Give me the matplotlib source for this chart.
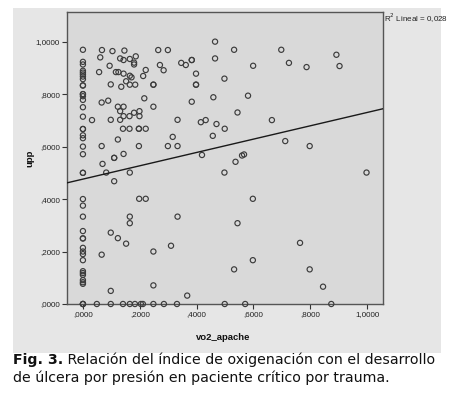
import matplotlib
matplotlib.use("Agg")
import matplotlib.pyplot as plt
from matplotlib.patches import Rectangle
import numpy as np

# ---- data ----
col0_y = [0.969, 0.923, 0.913, 0.889, 0.882, 0.875, 0.867, 0.857, 0.833, 0.833,
          0.8, 0.8, 0.792, 0.778, 0.75, 0.714, 0.667, 0.667, 0.643, 0.632, 0.6,
          0.571, 0.5, 0.5, 0.4, 0.375, 0.333, 0.278, 0.25, 0.25, 0.214, 0.2, 0.19,
          0.167, 0.125, 0.118, 0.111, 0.091, 0.083, 0.077, 0.0, 0.0, 0.0]

other_x = [0.067, 0.104, 0.146, 0.265, 0.299, 0.061, 0.131, 0.143, 0.165, 0.186,
           0.180, 0.180, 0.094, 0.271, 0.346, 0.362, 0.221, 0.284, 0.057, 0.116,
           0.125, 0.143, 0.165, 0.171, 0.212, 0.152, 0.098, 0.135, 0.165, 0.184,
           0.248, 0.248, 0.066, 0.089, 0.216, 0.123, 0.143, 0.248, 0.131, 0.143,
           0.164, 0.180, 0.199, 0.199, 0.032, 0.098, 0.131, 0.333, 0.141, 0.164,
           0.197, 0.197, 0.221, 0.316, 0.123, 0.066, 0.197, 0.299, 0.333, 0.143,
           0.110, 0.110, 0.069, 0.082, 0.165, 0.110, 0.198, 0.221, 0.165, 0.165,
           0.333, 0.098, 0.123, 0.152, 0.066, 0.248, 0.310, 0.098, 0.248, 0.367,
           0.049, 0.098, 0.141, 0.165, 0.183, 0.204, 0.211, 0.248, 0.285, 0.331,
           0.499, 0.571, 0.874,
           0.465, 0.383, 0.383, 0.465, 0.532, 0.599, 0.698, 0.725, 0.398, 0.398,
           0.398, 0.498, 0.383, 0.459, 0.581, 0.544, 0.415, 0.432, 0.470, 0.499,
           0.665, 0.457, 0.712, 0.419, 0.567, 0.560, 0.537, 0.498, 0.892, 0.787,
           0.903, 0.798, 0.998, 0.598, 0.544, 0.598, 0.532, 0.764, 0.798, 0.845]
other_y = [0.968, 0.964, 0.966, 0.968, 0.968, 0.940, 0.936, 0.930, 0.934, 0.944,
           0.920, 0.913, 0.908, 0.911, 0.919, 0.911, 0.892, 0.891, 0.884, 0.884,
           0.884, 0.878, 0.870, 0.864, 0.869, 0.849, 0.837, 0.828, 0.836, 0.836,
           0.836, 0.836, 0.768, 0.775, 0.784, 0.752, 0.752, 0.752, 0.735, 0.716,
           0.716, 0.729, 0.735, 0.716, 0.701, 0.702, 0.702, 0.702, 0.668, 0.668,
           0.668, 0.668, 0.668, 0.637, 0.627, 0.602, 0.602, 0.602, 0.602, 0.572,
           0.557, 0.557, 0.534, 0.501, 0.501, 0.468, 0.401, 0.401, 0.333, 0.308,
           0.333, 0.272, 0.251, 0.230, 0.188, 0.200, 0.222, 0.050, 0.071, 0.032,
           0.0, 0.0, 0.0, 0.0, 0.0, 0.0, 0.0, 0.0, 0.0, 0.0,
           0.0, 0.0, 0.0,
           1.0, 0.930, 0.930, 0.936, 0.969, 0.908, 0.969, 0.919, 0.878, 0.836,
           0.836, 0.859, 0.771, 0.788, 0.794, 0.730, 0.693, 0.701, 0.686, 0.668,
           0.701, 0.641, 0.621, 0.568, 0.570, 0.566, 0.542, 0.501, 0.950, 0.903,
           0.907, 0.602, 0.501, 0.401, 0.308, 0.167, 0.132, 0.233, 0.132, 0.066]

vo2_apache = [0.0] * len(col0_y) + other_x
upp = col0_y + other_y

fit_intercept = 0.476
fit_slope = 0.254
r2_label = "R$^2$ Lineal = 0,028"

x_ticks = [0.0, 0.2, 0.4, 0.6, 0.8, 1.0]
x_ticklabels = [",0000", ",2000", ",4000", ",6000", ",8000", "1,0000"]
y_ticks = [0.0, 0.2, 0.4, 0.6, 0.8, 1.0]
y_ticklabels = [",0000", ",2000", ",4000", ",6000", ",8000", "1,0000"]

x_label = "vo2_apache"
y_label = "upp"
caption_bold = "Fig. 3."
caption_rest1 = " Relación del índice de oxigenación con el desarrollo"
caption_line2 = "de úlcera por presión en paciente crítico por trauma."

# ---- figure ----
W, H = 457, 394
fig = plt.figure(figsize=(W / 100, H / 100), dpi=100)
fig.patch.set_facecolor("white")

# outer grey panel
fig.add_artist(Rectangle((13 / W, 1 - 353 / H), (441 - 13) / W, (353 - 8) / H,
                         transform=fig.transFigure, facecolor="#e6e6e6",
                         edgecolor="none", zorder=0))

ax = fig.add_axes([67 / W, 1 - 304 / H, (383 - 67) / W, (304 - 12) / H])
ax.set_facecolor("#d9d9d9")
ax.set_zorder(1)

ax.scatter(vo2_apache, upp, s=14, facecolors="none", edgecolors="#3c3c3c",
           linewidths=0.85, zorder=3, clip_on=False)

xlim = (-0.056, 1.056)
ax.set_xlim(xlim)
ax.set_ylim(0.0, 1.113)
xs = np.array(xlim)
ax.plot(xs, fit_intercept + fit_slope * xs, color="#1a1a1a", lw=1.0, zorder=4)

tick_font = dict(family=["Liberation Sans", "DejaVu Sans"], size=5.8, color="#222222")
ax.set_xticks(x_ticks)
ax.set_xticklabels(x_ticklabels, fontdict=tick_font)
ax.set_yticks(y_ticks)
ax.set_yticklabels(y_ticklabels, fontdict=tick_font)
ax.tick_params(axis="both", direction="out", length=3.5, width=0.8,
               color="#333333", pad=1.5)
ax.tick_params(top=False, right=False)
for side, sp in ax.spines.items():
    sp.set_color("#555555")
    sp.set_linewidth(1.0)

lab_font = dict(family=["Liberation Sans", "DejaVu Sans"], size=6.8,
                weight="bold", color="#111111")
fig.text(223.5 / W, 1 - 337.5 / H, x_label, ha="center", va="center", **lab_font)
fig.text(30 / W, 1 - 158 / H, y_label, ha="center", va="center", rotation=90,
         **lab_font)

fig.text(384 / W, 1 - 18 / H, r2_label, ha="left", va="center",
         family=["Liberation Sans", "DejaVu Sans"], size=5.8, color="#222222")

# caption
cap_font = dict(family=["DejaVu Sans"], size=10.2, color="#111111")
t1 = fig.text(13 / W, 1 - 360 / H, caption_bold, ha="left", va="center",
              weight="bold", **cap_font)
fig.canvas.draw()
bb = t1.get_window_extent(fig.canvas.get_renderer())
fig.text(bb.x1 / W, 1 - 360 / H, caption_rest1, ha="left", va="center", **cap_font)
fig.text(13 / W, 1 - 377.5 / H, caption_line2, ha="left", va="center", **cap_font)

fig.savefig("out.png", dpi=100)
